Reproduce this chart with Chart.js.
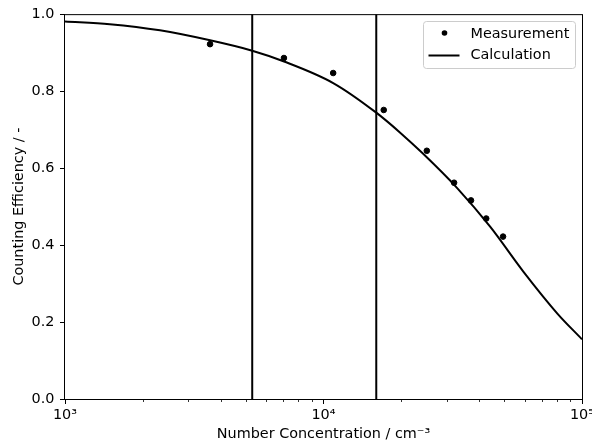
<!DOCTYPE html>
<html>
<head>
<meta charset="utf-8">
<script src="https://cdn.jsdelivr.net/npm/chart.js@4.4.1/dist/chart.umd.min.js"></script>
<style>
  body { margin: 0; background: #fff; }
</style>
</head>
<body>
<canvas id="efficiency-chart" width="592" height="444"></canvas>
<script>
// measured counting efficiency
const measConc = [3640, 7030, 10900, 17100, 25100, 32000, 37200, 42600, 49500]
const measEff = [0.922, 0.886, 0.847, 0.751, 0.645, 0.562, 0.516, 0.469, 0.422]

// calculated curve
const calcConc = [1000, 1490, 2330, 3640, 5300, 7040, 10900, 16000, 19800, 24300, 32900, 44200, 59300, 80300, 100000]
const calcEff = [0.981, 0.974, 0.958, 0.932, 0.905, 0.877, 0.821, 0.744, 0.692, 0.637, 0.548, 0.447, 0.331, 0.222, 0.155]

// vertical marker lines
const limitConc = [5300, 16000]

const xMajorTicks = [1000, 10000, 100000]
const xTickLabels = ['10³', '10⁴', '10⁵']
const xMinorSteps = [2, 3, 4, 5, 6, 7, 8, 9]
const yTicks = [0, 0.2, 0.4, 0.6, 0.8, 1.0]

Chart.defaults.font.family = 'DejaVu Sans'
Chart.defaults.font.size = 14.4
Chart.defaults.color = '#000'

const ctx = document.getElementById('efficiency-chart')

const minorTickValues = []
xMajorTicks.slice(0, -1).forEach(m => xMinorSteps.forEach(s => minorTickValues.push(m * s)))

const limitSets = limitConc.map(c => ({
  label: '',
  type: 'line',
  data: [{x: c, y: 0}, {x: c, y: 1}],
  borderColor: '#000',
  borderWidth: 2,
  pointRadius: 0,
  fill: false
}))

// frame around plot + short minor ticks
const framePlugin = {
  id: 'frame',
  afterDraw(chart) {
    const {ctx, chartArea} = chart
    const xs = chart.scales.x
    ctx.save()
    ctx.strokeStyle = '#000'
    ctx.lineWidth = 1
    ctx.strokeRect(chartArea.left - 0.5, chartArea.top + 0.5, chartArea.right - chartArea.left + 1, chartArea.bottom - chartArea.top)
    ctx.beginPath()
    minorTickValues.forEach(v => {
      const px = Math.round(xs.getPixelForValue(v)) + 0.5
      ctx.moveTo(px, chartArea.bottom)
      ctx.lineTo(px, chartArea.bottom + 3)
    })
    ctx.lineWidth = 0.8
    ctx.stroke()
    ctx.restore()
  }
}

const legendPlugin = {
  id: 'boxLegend',
  afterDraw(chart) {
    const {ctx, chartArea} = chart
    const w = 152, h = 47
    const x = Math.round(chartArea.right - 7 - w) + 0.5
    const y = Math.round(chartArea.top + 7) + 0.5
    const sets = chart.data.datasets
    ctx.save()
    ctx.beginPath()
    ctx.roundRect(x, y, w, h, 3)
    ctx.fillStyle = 'rgba(255,255,255,0.8)'
    ctx.fill()
    ctx.strokeStyle = '#cccccc'
    ctx.lineWidth = 1
    ctx.stroke()

    ctx.fillStyle = '#000'
    ctx.beginPath()
    ctx.arc(x + 21, y + 11.5, 2.8, 0, Math.PI * 2)
    ctx.fill()
    ctx.beginPath()
    ctx.moveTo(x + 5, y + 34)
    ctx.lineTo(x + 36, y + 34)
    ctx.strokeStyle = '#000'
    ctx.lineWidth = 2
    ctx.stroke()

    ctx.font = '14.4px "DejaVu Sans"'
    ctx.textBaseline = 'middle'
    ctx.fillText(sets[0].label, x + 47, y + 13)
    ctx.fillText(sets[1].label, x + 47, y + 34)
    ctx.restore()
  }
}

const mychart = new Chart(ctx, {
  type: 'scatter',
  data: {
    datasets: [{
      label: 'Measurement',
      data: measConc.map((c, i) => ({x: c, y: measEff[i]})),
      backgroundColor: '#000',
      borderColor: '#000',
      pointRadius: 2.8,
      pointHoverRadius: 2.8
    }, {
      label: 'Calculation',
      type: 'line',
      data: calcConc.map((c, i) => ({x: c, y: calcEff[i]})),
      borderColor: '#000',
      borderWidth: 2,
      pointRadius: 0,
      cubicInterpolationMode: 'monotone',
      fill: false
    }].concat(limitSets)
  },
  options: {
    responsive: false,
    animation: false,
    devicePixelRatio: 1,
    layout: { padding: { left: 0, top: 13, right: 10, bottom: 0 } },
    plugins: {
      legend: { display: false },
      tooltip: { enabled: false }
    },
    scales: {
      x: {
        type: 'logarithmic',
        min: 1000,
        max: 100000,
        afterBuildTicks: scale => {
          scale.ticks = xMajorTicks.concat(minorTickValues).sort((a, b) => a - b).map(v => ({value: v}))
        },
        afterFit: scale => {
          scale.height = 45
          scale.paddingLeft = 0
          scale.paddingRight = 0
        },
        ticks: {
          autoSkip: false,
          maxRotation: 0,
          padding: 3,
          callback: v => {
            const i = xMajorTicks.indexOf(v)
            return i >= 0 ? xTickLabels[i] : ''
          }
        },
        grid: {
          drawOnChartArea: false,
          tickLength: 5,
          tickWidth: 1,
          tickColor: c => xMajorTicks.includes(c.tick && c.tick.value) ? '#000' : 'rgba(0,0,0,0)'
        },
        border: { display: false },
        title: {
          display: true,
          text: 'Number Concentration / cm⁻³',
          padding: { top: 2, bottom: 1.5 }
        }
      },
      y: {
        min: 0,
        max: 1,
        afterBuildTicks: scale => {
          scale.ticks = yTicks.map(v => ({value: v}))
        },
        afterFit: scale => {
          scale.width = 65
        },
        ticks: {
          padding: 5.5,
          callback: v => Number(v).toFixed(1)
        },
        grid: {
          drawOnChartArea: false,
          tickLength: 5,
          tickWidth: 1,
          tickColor: '#000'
        },
        border: { display: false },
        title: {
          display: true,
          text: 'Counting Efficiency / -',
          padding: { top: 11, bottom: 2 }
        }
      }
    }
  },
  plugins: [framePlugin, legendPlugin]
})
</script>
</body>
</html>
